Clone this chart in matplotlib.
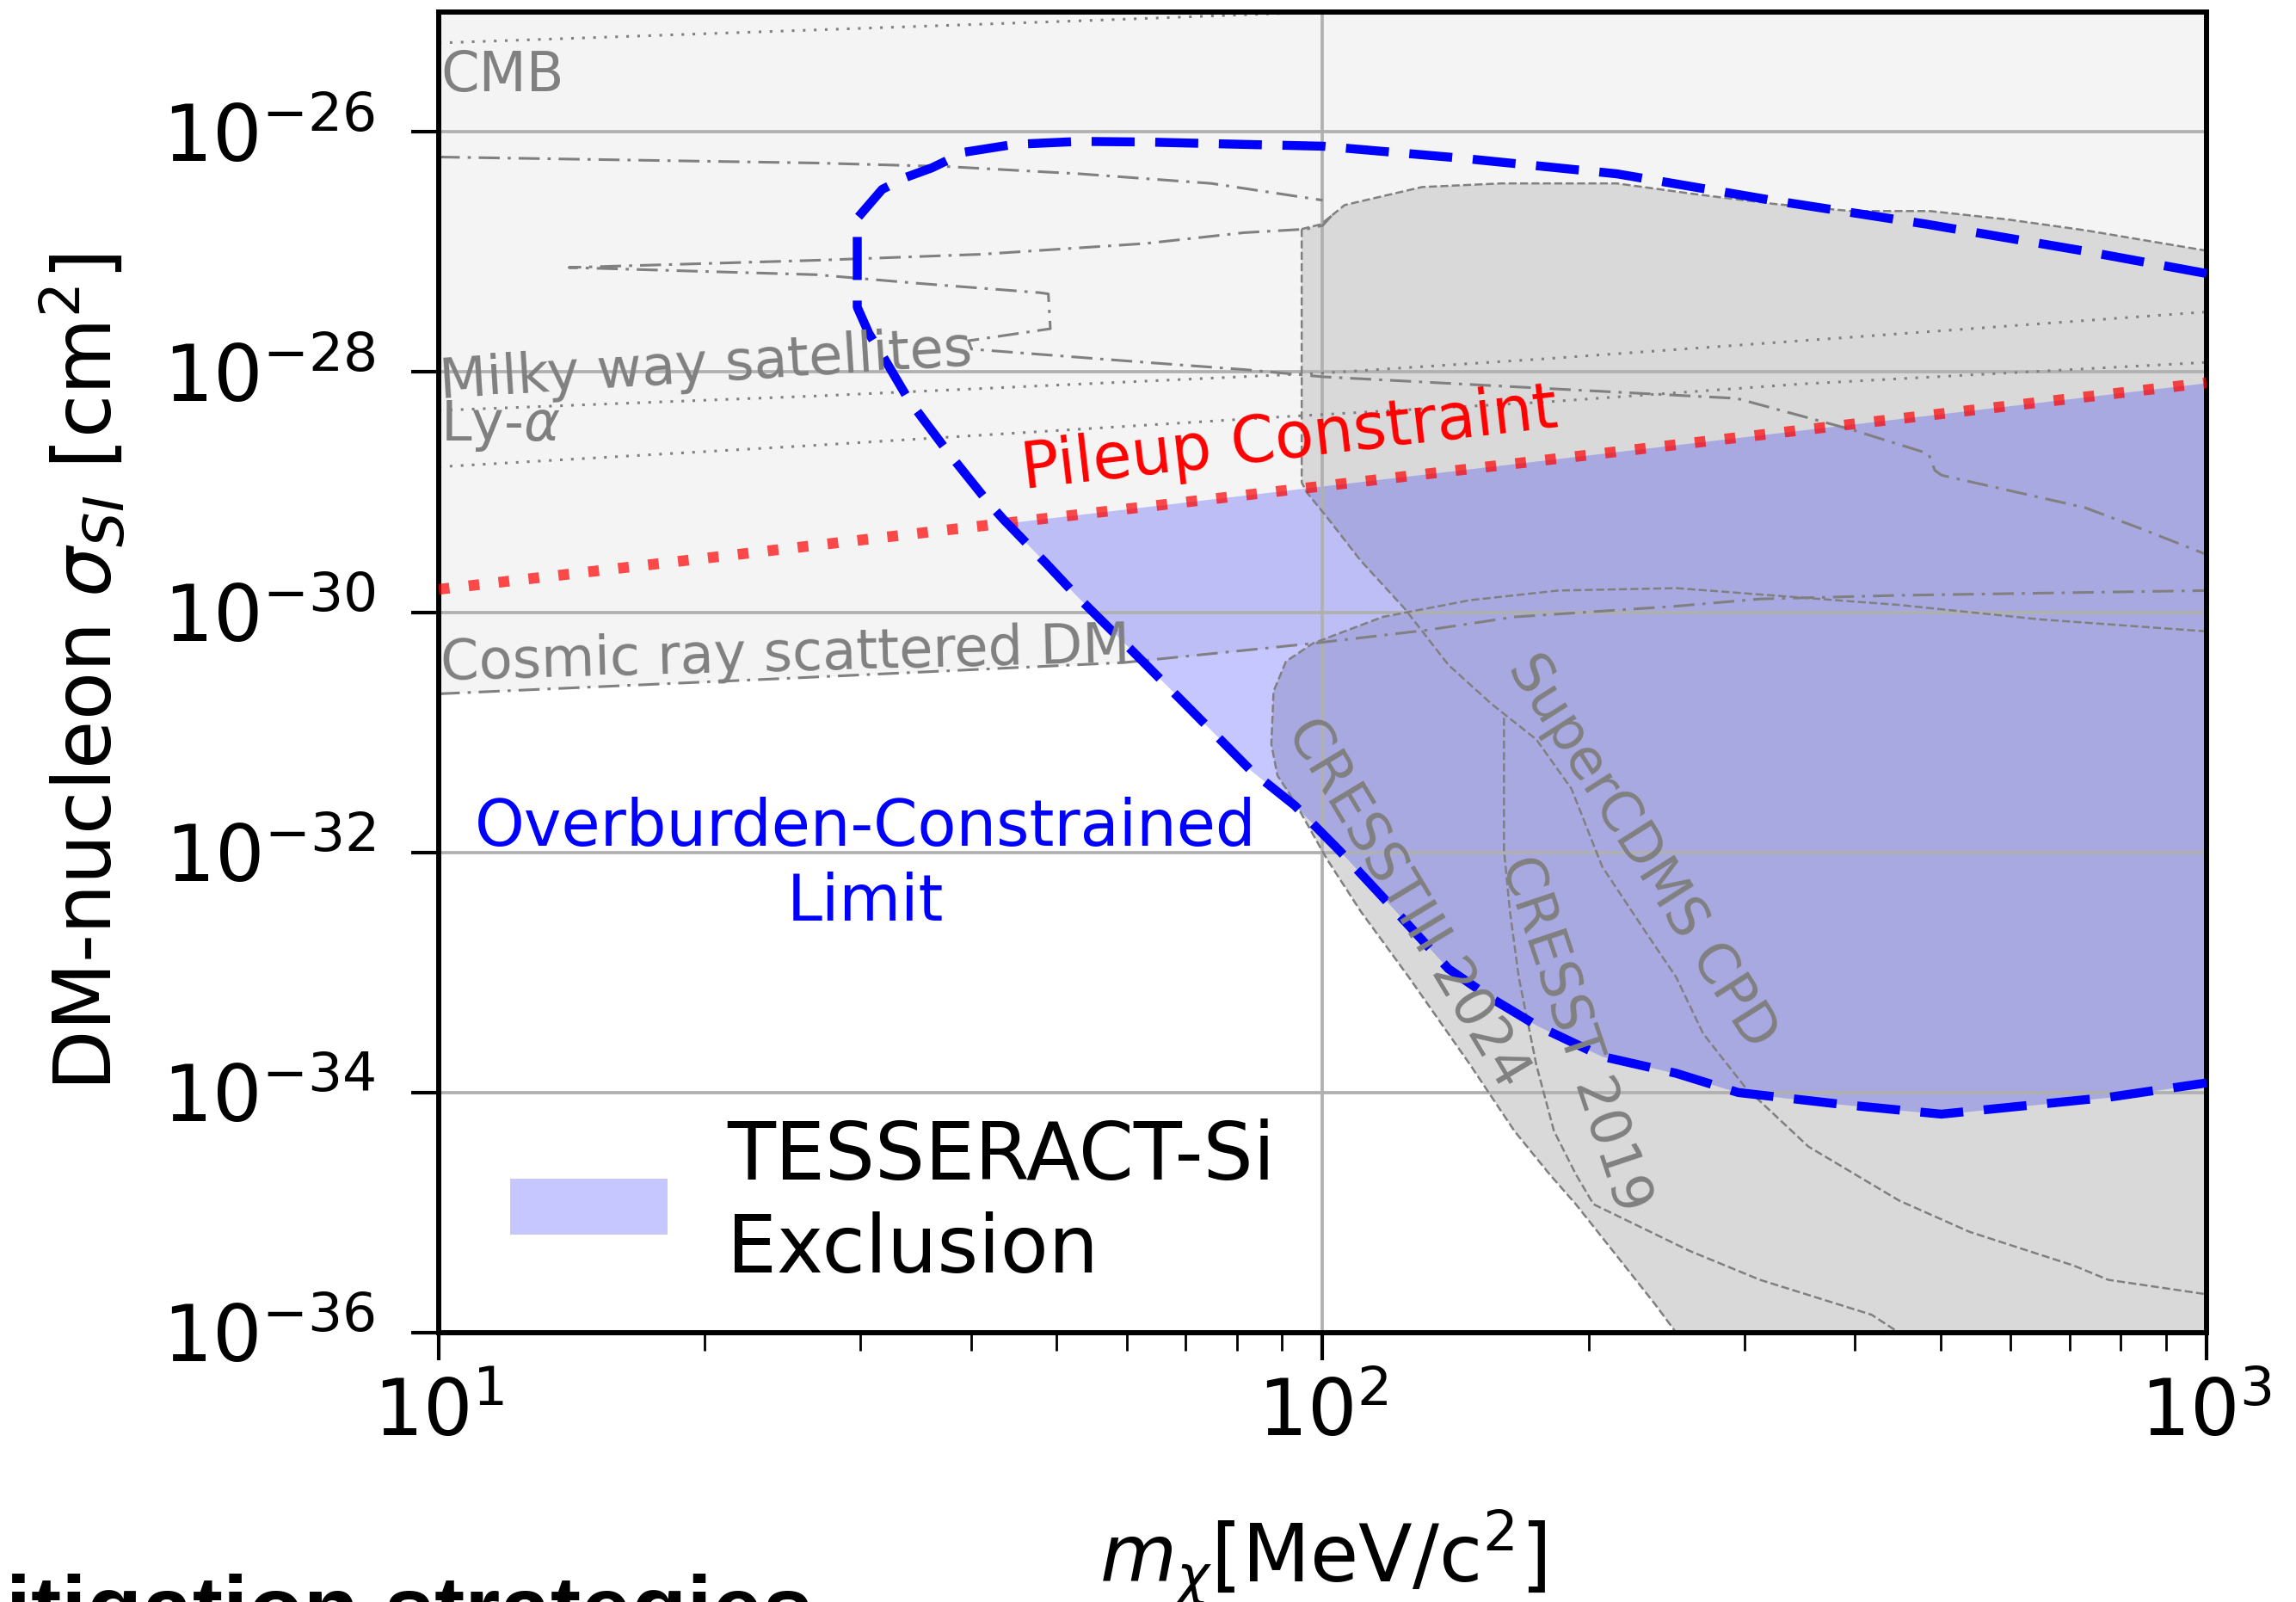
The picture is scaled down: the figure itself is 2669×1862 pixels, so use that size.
import numpy as np
import matplotlib
matplotlib.use("Agg")
import matplotlib.pyplot as plt
from matplotlib.ticker import LogLocator, NullLocator, NullFormatter

# DM mass [MeV/c^2] and log10(sigma_SI / cm^2)

# pileup constraint (straight in log-log)
pileup_m = [10, 1000]
pileup_ls = [-29.81, -28.09]

# overburden-constrained limit: right/top -> nose -> right/bottom
over_m = [1000, 723.4, 482.9, 322.3, 215.2, 143.7, 100, 81.5, 63.05, 53.1, 44.74,
          39.31, 36.14, 33.74, 31.74, 29.75, 29.75, 29.75, 30.67, 31.99, 34.0,
          37.70, 41.78, 43.57, 48.74, 52.61, 61.04, 70.0, 83.0, 93.0, 104.3,
          119.6, 138.8, 155.6, 174.5, 207.2, 251.2, 295.3, 388.0, 501.2, 774.6, 1000]
over_ls = [-27.18, -26.99, -26.77, -26.57, -26.35, -26.22, -26.12, -26.105, -26.085,
           -26.08, -26.105, -26.17, -26.30, -26.38, -26.48, -26.72, -26.94, -27.46,
           -27.68, -27.90, -28.23, -28.67, -29.08, -29.23, -29.60, -29.86, -30.33,
           -30.77, -31.32, -31.61, -31.98, -32.45, -32.97, -33.22, -33.44, -33.70,
           -33.84, -34.00, -34.10, -34.18, -34.04, -33.92]

# cosmological bounds (dotted)
cmb_m = [10, 56, 120]
cmb_ls = [-25.26, -25.07, -24.98]
mw_m = [10, 26.74, 99.6, 178.6, 347.8, 1000]
mw_ls = [-28.32, -28.20, -28.01, -27.89, -27.74, -27.50]
lya_m = [10, 26.74, 91.6, 178.6, 347.8, 1000]
lya_ls = [-28.79, -28.61, -28.37, -28.25, -28.10, -27.92]

# cosmic ray scattered DM (dash-dot): lower edge, then the returning upper path
cr_low_m = [10, 24.97, 59.55, 97.5, 131.1, 164.8, 251.2, 312.6, 449.1, 1000]
cr_low_ls = [-30.68, -30.55, -30.42, -30.26, -30.15, -30.04, -29.95, -29.89, -29.86, -29.82]
cr_up_m = [1000, 853.7, 728.9, 501.7, 492.9, 484.7, 396.7, 294.1, 100, 81.5, 63.05,
           40.06, 39.75, 49.2, 48.94, 47.91, 34.59, 26.74, 14.04, 26.74, 41.08,
           63.05, 81.5, 95.9, 100, 102.3]
cr_up_ls = [-29.52, -29.32, -29.13, -28.86, -28.82, -28.68, -28.48, -28.22, -28.04,
            -27.98, -27.92, -27.81, -27.74, -27.64, -27.35, -27.34, -27.26, -27.19,
            -27.13, -27.07, -27.02, -26.93, -26.84, -26.81, -26.78, -26.70]
dd_top_m = [10, 26.74, 37.7, 53.1, 74.84, 100]
dd_top_ls = [-26.21, -26.26, -26.29, -26.35, -26.43, -26.57]

# direct detection: SuperCDMS CPD region (top edge + left/lower edge)
cdms_top_m = [94.7, 99.6, 105.9, 129.6, 159.2, 215.2, 264.4, 323.5, 396, 486.6, 595.5, 728.9, 1000]
cdms_top_ls = [-26.81, -26.77, -26.61, -26.46, -26.43, -26.43, -26.52, -26.60, -26.66,
               -26.66, -26.73, -26.82, -26.99]
cdms_m = [94.7, 94.7, 95.9, 100.9, 110.4, 123.8, 138.8, 155.6, 174.5, 191.2, 207.2,
          232.3, 251.2, 269.5, 301, 354.5, 449.1, 539.4, 707, 774.6, 1000]
cdms_ls = [-26.81, -28.92, -29.0, -29.20, -29.57, -29.97, -30.44, -30.77, -31.06,
           -31.47, -32.12, -32.67, -33.04, -33.51, -33.96, -34.45, -34.90, -35.16,
           -35.44, -35.56, -35.68]

# CRESST-III 2024 contour
c3_m = [1000, 647.6, 449.1, 251.2, 184.8, 146.9, 116.9, 97.5, 90.9, 88.0, 87.5, 88.9,
        93.0, 101.0, 110.4, 125.2, 146.9, 164.8, 180.6, 193.4, 216.8, 237.6, 251.2]
c3_ls = [-30.16, -30.06, -29.94, -29.80, -29.82, -29.90, -30.04, -30.26, -30.41, -30.66,
         -31.10, -31.36, -31.58, -32.05, -32.49, -33.04, -33.77, -34.32, -34.68, -34.93,
         -35.39, -35.76, -36.0]

# CRESST 2019
c19_m = [160.4, 160.4, 162.9, 166.7, 174.5, 182.7, 193.4, 202.5, 260.4, 312.6, 417.8, 449.1]
c19_ls = [-30.88, -31.98, -32.49, -33.04, -33.77, -34.32, -34.68, -34.93, -35.32,
          -35.56, -35.85, -36.0]

LIGHT = '#f4f4f4'
DARK = '#d9d9d9'
GRAY = '#808080'


def p(ls):
    return 10.0 ** np.asarray(ls)


fig = plt.figure(figsize=(26.69, 18.62), dpi=100)
ax = fig.add_axes([0.1911, 0.1681, 0.961 - 0.1911, 0.9927 - 0.1681])
ax.set_xscale('log')
ax.set_yscale('log')
ax.set_xlim(10, 1000)
ax.set_ylim(1e-36, 1e-25)

# light gray: everything above the cosmic-ray lower edge
ax.fill_between(cr_low_m, p(cr_low_ls), 1e-25, color=LIGHT, lw=0, zorder=0.2)

# dark gray direct-detection regions
ax.fill(np.r_[cdms_top_m, cdms_m[::-1]], p(np.r_[cdms_top_ls, cdms_ls[::-1]]),
        color=DARK, lw=0, zorder=0.3)
ax.fill(np.r_[c3_m, 1000], p(np.r_[c3_ls, -36.0]), color=DARK, lw=0, zorder=0.3)

# TESSERACT exclusion: between overburden lower branch and pileup line
om = np.asarray(over_m)
i0 = len(om) - 1 - np.argmin(om[::-1])
low_m = om[i0:]
low_ls = np.asarray(over_ls)[i0:]
mg = np.logspace(np.log10(low_m[0]), 3, 600)
lower = np.interp(np.log10(mg), np.log10(low_m), low_ls)
upper = np.interp(np.log10(mg), np.log10(pileup_m), pileup_ls)
ax.fill_between(mg, p(lower), p(upper), where=upper >= lower, color='blue',
                alpha=0.22, lw=0, zorder=0.4, label='TESSERACT-Si\nExclusion')

# gray reference curves
kw = dict(color=GRAY, zorder=2)
ax.plot(cmb_m, p(cmb_ls), lw=2.2, ls=(0, (1, 3.2)), **kw)
ax.plot(mw_m, p(mw_ls), lw=2.2, ls=(0, (1, 3.2)), **kw)
ax.plot(lya_m, p(lya_ls), lw=2.2, ls=(0, (1, 3.2)), **kw)
ax.plot(np.r_[cr_low_m, cr_up_m], p(np.r_[cr_low_ls, cr_up_ls]), lw=2.2,
        ls=(0, (8, 3, 1.2, 3)), **kw)
ax.plot(dd_top_m, p(dd_top_ls), lw=2.2, ls=(0, (8, 3, 1.2, 3)), **kw)
ax.plot(cdms_top_m, p(cdms_top_ls), lw=1.8, ls='--', **kw)
ax.plot(cdms_m, p(cdms_ls), lw=1.8, ls='--', **kw)
ax.plot(c3_m, p(c3_ls), lw=1.8, ls='--', **kw)
ax.plot(c19_m, p(c19_ls), lw=1.8, ls='--', **kw)

# TESSERACT lines
ax.plot(pileup_m, p(pileup_ls), color='red', alpha=0.7, lw=9, ls=(0, (1, 1.8)), zorder=3)
ax.plot(over_m, p(over_ls), color='blue', lw=7.5, ls=(0, (4.8, 2.3)), zorder=3)

# labels inside the plot
tk = dict(color=GRAY, fontsize=46, zorder=4)
ax.text(10.05, p(-25.66), 'CMB', ha='left', va='baseline', **tk)
ax.text(10.05, p(-28.22), 'Milky way satellites', ha='left', va='baseline',
        rotation=3.6, rotation_mode='anchor', **tk)
ax.text(10.05, p(-28.57), r'Ly-$\alpha$', ha='left', va='baseline', **tk)
ax.text(10.05, p(-30.56), 'Cosmic ray scattered DM', ha='left', va='baseline',
        rotation=1.5, rotation_mode='anchor', **tk)
ax.text(124.7, p(-32.42), 'CRESSTIII 2024', ha='center', va='center', rotation=-59, **tk)
ax.text(192.7, p(-33.51), 'CRESST 2019', ha='center', va='center', rotation=-71.5, **tk)
ax.text(229.6, p(-31.99), 'SuperCDMS CPD', ha='center', va='center', rotation=-57.6, **tk)

ax.text(45.95, p(-28.976), 'Pileup Constraint', color='red', fontsize=53,
        ha='left', va='baseline', rotation=6.6, rotation_mode='anchor', zorder=4)
ax.text(30.38, p(-31.534), 'Overburden-Constrained\nLimit', color='blue', fontsize=53,
        ha='center', va='top', multialignment='center', linespacing=1.25, zorder=4)

leg = ax.legend(loc='lower left', bbox_to_anchor=(0.0404, 0.0332), frameon=False,
                fontsize=66, borderpad=0, borderaxespad=0, handlelength=2.0,
                handletextpad=0.75)
for t in leg.get_texts():
    t.set_linespacing(1.25)

# axes styling
ax.set_yticks(p(np.arange(-36, -25, 2)))
ax.yaxis.set_minor_locator(NullLocator())
ax.xaxis.set_major_locator(LogLocator(base=10, numticks=10))
ax.xaxis.set_minor_locator(LogLocator(base=10, subs=np.arange(2, 10), numticks=20))
ax.xaxis.set_minor_formatter(NullFormatter())
ax.tick_params(which='major', length=23, width=3, labelsize=65, pad=14)
ax.tick_params(axis='y', which='major', pad=30)
ax.tick_params(which='minor', length=15, width=2)
for s in ax.spines.values():
    s.set_linewidth(4.3)
ax.grid(True, which='major', color='#b0b0b0', lw=2.7)

ax.set_xlabel(r'$m_\chi$[MeV/c$^2$]', fontsize=66)
ax.set_ylabel(r'DM-nucleon $\sigma_{SI}$ [cm$^2$]', fontsize=66)
ax.xaxis.set_label_coords(0.5, -0.132)
ax.yaxis.set_label_coords(-0.176, 0.5)

# clipped heading of the page below the figure
fig.text(0.354, -0.0236, 'Mitigation strategies', family='Liberation Sans',
         weight='bold', fontsize=76, ha='right', va='baseline')

fig.savefig('out.png', dpi=100)
